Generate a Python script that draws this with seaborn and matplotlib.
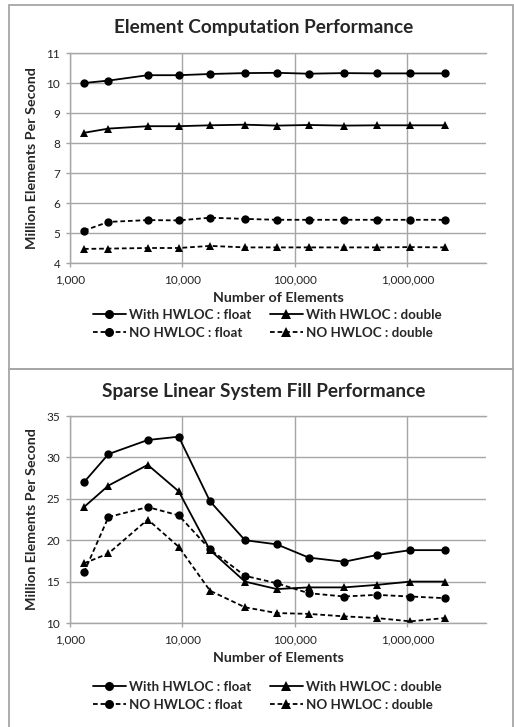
import matplotlib
matplotlib.use("Agg")
import numpy as np
import pandas as pd
import seaborn as sns
import matplotlib.pyplot as plt
from matplotlib.lines import Line2D
from matplotlib.patches import Rectangle
from matplotlib.ticker import FixedLocator, FuncFormatter, NullLocator

# ---------------- data ----------------
n_elements = [1331, 2197, 4913, 9261, 17576, 35937, 68921, 132651,
              274625, 531441, 1061208, 2146689]
series_names = ["With HWLOC : float", "With HWLOC : double",
                "NO HWLOC : float", "NO HWLOC : double"]

compute_with_float = [10.00, 10.08, 10.26, 10.26, 10.30, 10.33, 10.34, 10.31, 10.33, 10.32, 10.32, 10.32]
compute_with_double = [8.34, 8.48, 8.56, 8.56, 8.59, 8.61, 8.58, 8.60, 8.58, 8.59, 8.59, 8.59]
compute_no_float = [5.08, 5.37, 5.43, 5.42, 5.51, 5.47, 5.44, 5.44, 5.44, 5.44, 5.44, 5.44]
compute_no_double = [4.47, 4.48, 4.50, 4.50, 4.57, 4.52, 4.52, 4.52, 4.52, 4.52, 4.53, 4.52]

fill_with_float = [27.0, 30.4, 32.1, 32.5, 24.7, 20.0, 19.5, 17.9, 17.4, 18.2, 18.8, 18.8]
fill_with_double = [24.0, 26.6, 29.1, 25.9, 18.8, 15.0, 14.1, 14.3, 14.3, 14.6, 15.0, 15.0]
fill_no_float = [16.1, 22.8, 24.0, 23.0, 18.9, 15.7, 14.8, 13.6, 13.2, 13.4, 13.2, 13.0]
fill_no_double = [17.2, 18.4, 22.5, 19.2, 13.9, 11.9, 11.2, 11.1, 10.8, 10.6, 10.2, 10.6]

titles = ["Element Computation Performance", "Sparse Linear System Fill Performance"]
x_label = "Number of Elements"
y_label = "Million Elements Per Second"
x_ticks = [1000, 10000, 100000, 1000000]
y_ticks_top = [4, 5, 6, 7, 8, 9, 10, 11]
y_ticks_bottom = [10, 15, 20, 25, 30, 35]

# ---------------- style ----------------
sns.set_style("white")
FONT = ["Lato", "DejaVu Sans"]
plt.rcParams["font.family"] = FONT

W, H = 514, 727
fig = plt.figure(figsize=(W / 100, H / 100), dpi=100)

GRID = "#a6a6a6"
markers = dict(zip(series_names, ["o", "^", "o", "^"]))
dash = (2.6, 1.6)
dashes = dict(zip(series_names, ["", "", dash, dash]))


def px_axes(left, top, right, bottom):
    return fig.add_axes([left / W, 1 - bottom / H, (right - left) / W, (bottom - top) / H])


def draw(ax, vals, yticks):
    df = pd.concat([pd.DataFrame({"n": n_elements, "v": v, "series": s})
                    for s, v in zip(series_names, vals)], ignore_index=True)
    ax.set_xscale("log")
    sns.lineplot(data=df, x="n", y="v", style="series", style_order=series_names,
                 markers=markers, dashes=dashes, color="black", linewidth=1.3,
                 markersize=6, markeredgewidth=0, estimator=None, sort=False,
                 legend=False, ax=ax)
    ax.set_xlim(1000, 5.0e6)
    ax.set_ylim(yticks[0], yticks[-1])
    ax.xaxis.set_major_locator(FixedLocator(x_ticks))
    ax.xaxis.set_minor_locator(NullLocator())
    ax.xaxis.set_major_formatter(FuncFormatter(lambda v, p: f"{int(round(v)):,}"))
    ax.set_yticks(yticks)
    ax.grid(True, color=GRID, linewidth=1.0)
    ax.set_axisbelow(True)
    for sp in ["left", "bottom", "top"]:
        ax.spines[sp].set_color(GRID)
        ax.spines[sp].set_linewidth(1.0)
    ax.spines["right"].set_visible(False)
    ax.tick_params(axis="both", which="major", length=3, width=1.0, color=GRID,
                   labelsize=8.5, labelcolor="#222222", direction="out",
                   left=True, bottom=True)
    ax.tick_params(axis="y", pad=4)
    ax.tick_params(axis="x", pad=5)
    ax.set_xlabel(x_label, fontsize=10.3, fontweight="bold")
    ax.set_ylabel(y_label, fontsize=10.3, fontweight="bold")
    ax.yaxis.set_label_coords(-0.078, 0.5)
    ax.xaxis.set_label_coords(0.5, -0.14)


ax1 = px_axes(70, 53, 486, 263)
draw(ax1, [compute_with_float, compute_with_double, compute_no_float, compute_no_double],
     y_ticks_top)
ax2 = px_axes(70, 416, 486, 623)
draw(ax2, [fill_with_float, fill_with_double, fill_no_float, fill_no_double],
     y_ticks_bottom)

# titles
fig.text(264 / W, 1 - 28 / H, titles[0], ha="center", va="center", fontsize=13.7, fontweight="bold")
fig.text(264 / W, 1 - 392 / H, titles[1], ha="center", va="center", fontsize=13.7, fontweight="bold")

# legends
def handle(ls, m):
    return Line2D([], [], color="black", linestyle=ls, linewidth=1.3, marker=m,
                  markersize=6.5, markeredgewidth=0)

hs = [handle("-", "o"), handle((0, dash), "o"), handle("-", "^"), handle((0, dash), "^")]
labs = [series_names[0], series_names[2], series_names[1], series_names[3]]
for cy in (323.5, 696):
    fig.legend(hs, labs, ncol=2, loc="center", bbox_to_anchor=(267 / W, 1 - cy / H),
               frameon=False, handlelength=2.5, handletextpad=0.2, columnspacing=1.4,
               labelspacing=0.45, prop={"family": FONT, "weight": "bold", "size": 9.6})

# panel borders
fig.patches.append(Rectangle((9 / W, 1 - 369 / H), 504 / W, 364 / H, transform=fig.transFigure,
                             fill=False, edgecolor=GRID, linewidth=1.3))
fig.patches.append(Rectangle((9 / W, 1 - 740 / H), 504 / W, 371 / H, transform=fig.transFigure,
                             fill=False, edgecolor=GRID, linewidth=1.3, clip_on=False))

fig.savefig("out.png", dpi=100)
